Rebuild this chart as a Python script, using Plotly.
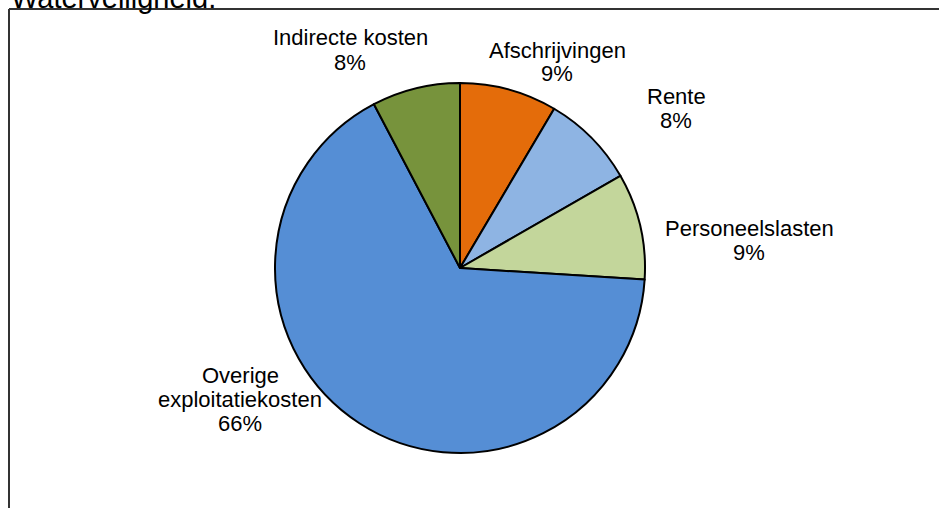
import plotly.graph_objects as go

W, H = 939, 508

categories = ["Afschrijvingen", "Rente", "Personeelslasten", "Overige<br>exploitatiekosten", "Indirecte kosten"]
values = [8.5, 8.2, 9.3, 66.3, 7.7]
pct_labels = ["9%", "8%", "9%", "66%", "8%"]
colors = ["#E46C0A", "#8EB4E3", "#C3D69B", "#558ED5", "#77933C"]

# label anchor positions (pixel, center of first line)
label_pos = [(557, 50), (676, 96), (749, 228), (240, 375), (350, 38)]
line_gap = 24

fig = go.Figure()
cx, cy, r = 460, 268, 185
fig.add_trace(go.Pie(
    values=values,
    labels=[c.replace("<br>", " ") for c in categories],
    sort=False,
    direction="clockwise",
    rotation=0,
    textinfo="none",
    hoverinfo="label+percent",
    marker=dict(colors=colors, line=dict(color="black", width=2)),
    domain=dict(x=[(cx - r) / W, (cx + r) / W], y=[1 - (cy + r) / H, 1 - (cy - r) / H]),
    showlegend=False,
))

annotations = []
for cat, pct, (px, py) in zip(categories, pct_labels, label_pos):
    lines = cat.split("<br>") + [pct]
    for i, t in enumerate(lines):
        annotations.append(dict(
            x=px / W, y=1 - (py + i * line_gap) / H, xref="paper", yref="paper",
            text=t, showarrow=False, xanchor="center", yanchor="middle",
            font=dict(family="Liberation Sans, Arial", size=22, color="black"),
        ))

# partially cut title
annotations.append(dict(
    x=9 / W, y=1 - 16 / H, xref="paper", yref="paper", text="Waterveiligheid.",
    showarrow=False, xanchor="left", yanchor="bottom",
    font=dict(family="Liberation Sans, Arial", size=29, color="black"),
))

shapes = [
    dict(type="line", xref="paper", yref="paper", x0=9 / W, x1=9 / W, y0=0, y1=1 - 9 / H,
         line=dict(color="#333333", width=2)),
    dict(type="line", xref="paper", yref="paper", x0=9 / W, x1=1, y0=1 - 9 / H, y1=1 - 9 / H,
         line=dict(color="#333333", width=2)),
]

fig.update_layout(
    width=W, height=H,
    margin=dict(l=0, r=0, t=0, b=0),
    paper_bgcolor="white", plot_bgcolor="white",
    annotations=annotations, shapes=shapes,
)

fig.write_html("out.html", config={"displayModeBar": False})

# remove default page margin so the figure sits at the window's top-left corner
with open("out.html", "r", encoding="utf-8") as f:
    html = f.read()
html = html.replace("<head>", "<head><style>html,body{margin:0;padding:0;overflow:hidden;}</style>", 1)
with open("out.html", "w", encoding="utf-8") as f:
    f.write(html)
